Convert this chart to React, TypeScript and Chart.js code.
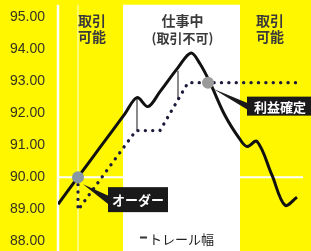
import React, { useEffect, useRef } from "react";
import { Chart, registerables } from "chart.js";
Chart.register(...registerables);

// ---- data ----
const yTickValues = [88, 89, 90, 91, 92, 93, 94, 95];
const priceX = [0, 20, 42, 67, 79, 90, 102, 120, 133, 142, 152, 167, 182, 189, 199, 214, 227, 239];
const priceY = [89.15, 90.0, 90.93, 91.99, 92.49, 92.21, 92.68, 93.43, 93.89, 93.55, 92.96, 91.93, 91.18, 90.96, 91.12, 90.06, 89.12, 89.37];
const trailX = [20, 20, 78, 102, 130, 244];
const trailY = [90.0, 88.97, 91.46, 91.46, 92.96, 92.96];
const widthMarkX = [79, 120];
const widthMarkTop = [92.49, 93.33];
const widthMarkBottom = [91.46, 92.43];
const orderPoint = { x: 20, y: 90.0 };
const profitPoint = { x: 150, y: 92.96 };
const entryPrice = 90.0;
const entryLineEnd = 245;
const workStart = 65;
const workEnd = 182;
const bandTopPrice = 95.4;
const phaseLeft = ["取引", "可能"];
const phaseMid = ["仕事中", "(取引不可)"];
const phaseRight = ["取引", "可能"];
const orderLabel = "オーダー";
const profitLabel = "利益確定";
const legendLabel = "トレール幅";

const YELLOW = "#fff700";
const CJK = "'Noto Sans CJK JP', 'Noto Sans', sans-serif";

export default function App() {
  const ref = useRef<HTMLCanvasElement | null>(null);
  useEffect(() => {
    if (!ref.current) return;
    const deco = {
      id: "deco",
      beforeDraw(chart: any) {
        const { ctx, scales } = chart;
        const xs = scales.x, ys = scales.y;
        ctx.save();
        ctx.fillStyle = YELLOW;
        ctx.fillRect(0, 0, chart.width, chart.height);
        const bx0 = xs.getPixelForValue(workStart);
        const bx1 = xs.getPixelForValue(workEnd);
        const bt = ys.getPixelForValue(bandTopPrice);
        ctx.fillStyle = "#ffffff";
        ctx.fillRect(bx0, bt, bx1 - bx0, chart.height - bt);
        // white guide lines
        ctx.strokeStyle = "#ffffff";
        ctx.lineWidth = 2.5;
        const ax = xs.getPixelForValue(0);
        ctx.beginPath();
        ctx.moveTo(ax, bt);
        ctx.lineTo(ax, chart.height);
        ctx.stroke();
        const ey = ys.getPixelForValue(entryPrice);
        ctx.lineWidth = 2;
        ctx.beginPath();
        ctx.moveTo(ax, ey);
        ctx.lineTo(xs.getPixelForValue(entryLineEnd), ey);
        ctx.stroke();
        ctx.strokeStyle = "rgba(255,255,255,0.6)";
        ctx.lineWidth = 1.5;
        const ox = xs.getPixelForValue(orderPoint.x);
        ctx.beginPath();
        ctx.moveTo(ox, bt);
        ctx.lineTo(ox, chart.height);
        ctx.stroke();
        ctx.restore();
      },
      afterDraw(chart: any) {
        const { ctx, scales } = chart;
        const xs = scales.x, ys = scales.y;
        ctx.save();
        // phase labels
        ctx.fillStyle = "#3a3a3a";
        ctx.font = `bold 14px ${CJK}`;
        ctx.textBaseline = "middle";
        ctx.textAlign = "left";
        const lx = xs.getPixelForValue(orderPoint.x);
        ctx.fillText(phaseLeft[0], lx, 21);
        ctx.fillText(phaseLeft[1], lx, 37);
        ctx.textAlign = "center";
        const mx = (xs.getPixelForValue(workStart) + xs.getPixelForValue(workEnd)) / 2 + 1;
        ctx.font = `bold 14px ${CJK}`;
        ctx.fillText(phaseMid[0], mx, 21);
        ctx.font = `bold 13px ${CJK}`;
        ctx.fillText(phaseMid[1], mx, 38);
        ctx.font = `bold 14px ${CJK}`;
        const rx = xs.getPixelForValue(212);
        ctx.fillText(phaseRight[0], rx, 21);
        ctx.fillText(phaseRight[1], rx, 37);

        // callouts
        const callout = (px: number, py: number, bx: number, by: number, bw: number, bh: number, text: string, tip: [number, number]) => {
          ctx.fillStyle = "#1a1a1a";
          ctx.beginPath();
          ctx.moveTo(px + tip[0], py + tip[1]);
          ctx.lineTo(px + bx + 1, py + by + bh * 0.35);
          ctx.lineTo(px + bx + 1, py + by + bh * 0.7);
          ctx.closePath();
          ctx.fill();
          ctx.fillRect(px + bx, py + by, bw, bh);
          ctx.fillStyle = "#ffffff";
          ctx.font = `bold 13px ${CJK}`;
          ctx.textAlign = "center";
          ctx.textBaseline = "middle";
          ctx.fillText(text, px + bx + bw / 2, py + by + bh / 2 + 0.5);
        };
        const opx = xs.getPixelForValue(orderPoint.x), opy = ys.getPixelForValue(orderPoint.y);
        callout(opx, opy, 30, 10, 60, 25, orderLabel, [5, 7]);
        const ppx = xs.getPixelForValue(profitPoint.x), ppy = ys.getPixelForValue(profitPoint.y);
        callout(ppx, ppy, 39, 14, 66, 19, profitLabel, [5, 6]);

        // legend
        ctx.strokeStyle = "#333";
        ctx.lineWidth = 2;
        ctx.beginPath();
        ctx.moveTo(140, 237.5);
        ctx.lineTo(147, 237.5);
        ctx.stroke();
        ctx.fillStyle = "#222";
        ctx.font = `13px ${CJK}`;
        ctx.textAlign = "left";
        ctx.textBaseline = "middle";
        ctx.fillText(legendLabel, 149, 239);
        ctx.restore();
      },
    };

    const widthSets = widthMarkX.map((x, i) => ({
      data: [
        { x, y: widthMarkTop[i] },
        { x, y: widthMarkBottom[i] },
      ],
      showLine: true,
      borderColor: "#8a8a8a",
      borderWidth: 2,
      pointRadius: 0,
      order: 4,
    }));

    const chart = new Chart(ref.current, {
      type: "scatter",
      data: {
        datasets: [
          {
            data: [orderPoint, profitPoint],
            showLine: false,
            pointRadius: 6,
            pointBackgroundColor: ["#8797a4", "#9a9a9a"],
            pointBorderWidth: 0,
            order: 0,
          } as any,
          {
            data: priceX.map((x, i) => ({ x, y: priceY[i] })),
            showLine: true,
            borderColor: "#111111",
            borderWidth: 3,
            tension: 0.35,
            pointRadius: 0,
            order: 1,
          },
          {
            data: trailX.map((x, i) => ({ x, y: trailY[i] })),
            showLine: true,
            borderColor: "#1b1b3c",
            borderWidth: 3.3,
            borderDash: [0.1, 7.3],
            borderCapStyle: "round",
            tension: 0,
            pointRadius: 0,
            order: 2,
          },
          ...widthSets,
        ],
      },
      options: {
        animation: false,
        responsive: false,
        devicePixelRatio: 1,
        layout: { autoPadding: false, padding: { top: 17.5, bottom: 10, left: 0, right: 0 } },
        plugins: { legend: { display: false }, tooltip: { enabled: false } },
        scales: {
          x: { type: "linear", min: 0, max: 253, display: false },
          y: {
            min: 88,
            max: 95,
            afterFit: (s: any) => {
              s.width = 58;
            },
            afterBuildTicks: (s: any) => {
              s.ticks = yTickValues.map((v) => ({ value: v }));
            },
            ticks: {
              callback: (v: any) => Number(v).toFixed(2),
              padding: 0,
              color: "#33331f",
              font: { family: "'Liberation Sans', Arial, sans-serif", size: 14 },
            },
            grid: { display: false, drawTicks: true, tickLength: 13 },
            border: { display: false },
          },
        },
      } as any,
      plugins: [deco],
    });
    return () => chart.destroy();
  }, []);

  return (
    <div style={{ position: "fixed", left: 0, top: 0, width: 311, height: 251 }}>
      <canvas ref={ref} width={311} height={251} style={{ display: "block" }} />
    </div>
  );
}
